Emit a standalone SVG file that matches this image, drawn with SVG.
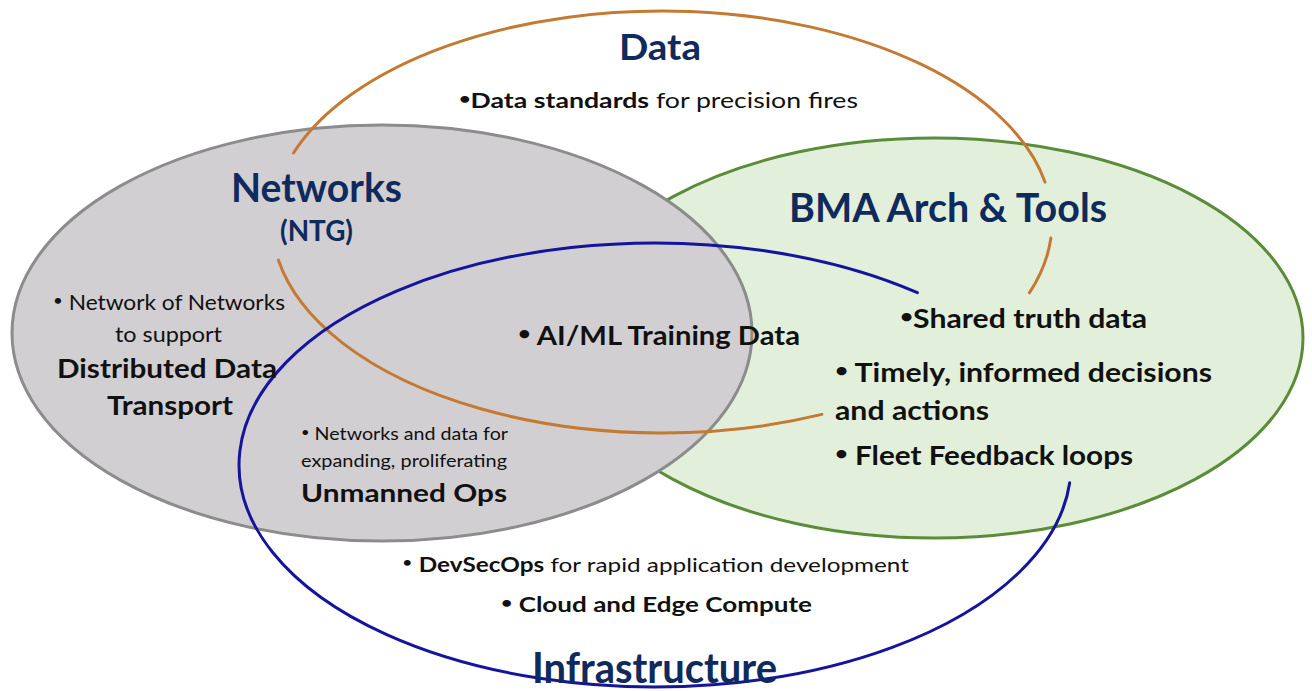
<svg xmlns="http://www.w3.org/2000/svg" width="1312" height="691" viewBox="0 0 1312 691">
<style>
text{font-family:Lato,"Noto Sans","Liberation Sans",sans-serif;fill:#111}
.h{font-weight:700;fill:#0f2a5c}
.b{font-weight:700}
.u{font-size:75%;baseline-shift:0.25em}
.line{fill:none;stroke-width:3;stroke-linecap:round}
.orange{stroke:#c47a33}
.blue{stroke:#14149c}
</style>
<rect width="1312" height="691" fill="#ffffff"/>
<g id="bma">
<ellipse cx="934" cy="338" rx="369" ry="200" fill="#e2efda" stroke="#5b8c3a" stroke-width="3"/>
</g>
<g id="networks">
<ellipse cx="382" cy="333" rx="370" ry="208" fill="#d1cfd2" stroke="#8c8c8c" stroke-width="3"/>
</g>
<g id="connectors">
<path id="data-ring-top" class="line orange" d="M293.5,153 A390,211 0 0,1 1045,182.1"/>
<path id="data-ring-bottom" class="line orange" d="M278.4,260.1 A390,211 0 0,0 821.9,414.4"/>
<path id="data-ring-right" class="line orange" d="M1050.9,238 A390,211 0 0,1 1029.4,292.8"/>
<path id="infra-ring" class="line blue" d="M1069.7,482.8 A416,222 0 1,1 917.4,292.7"/>
</g>
<g id="data-label">
<text class="h" x="619" y="60" font-size="36" textLength="82" lengthAdjust="spacingAndGlyphs">Data</text>
<text x="459" y="108" font-size="21" textLength="399" lengthAdjust="spacingAndGlyphs"><tspan class="b"><tspan class="u">•</tspan>Data standards</tspan> for precision fires</text>
</g>
<g id="networks-label">
<text class="h" x="231" y="202" font-size="40" textLength="171" lengthAdjust="spacingAndGlyphs">Networks</text>
<text class="h" x="280" y="241" font-size="29" textLength="73" lengthAdjust="spacingAndGlyphs">(NTG)</text>
<text x="53" y="310" font-size="21" textLength="232" lengthAdjust="spacingAndGlyphs"><tspan class="u">•</tspan> Network of Networks</text>
<text x="115" y="342" font-size="21" textLength="107" lengthAdjust="spacingAndGlyphs">to support</text>
<text class="b" x="57" y="378" font-size="26" textLength="220" lengthAdjust="spacingAndGlyphs">Distributed Data</text>
<text class="b" x="107" y="415" font-size="26" textLength="126" lengthAdjust="spacingAndGlyphs">Transport</text>
</g>
<g id="bma-label">
<text class="h" x="789" y="222" font-size="40" textLength="318" lengthAdjust="spacingAndGlyphs">BMA Arch &amp; Tools</text>
<text class="b" x="900" y="328" font-size="26" textLength="247" lengthAdjust="spacingAndGlyphs"><tspan class="u">•</tspan>Shared truth data</text>
<text class="b" x="835" y="382" font-size="26" textLength="377" lengthAdjust="spacingAndGlyphs"><tspan class="u">•</tspan> Timely, informed decisions</text>
<text class="b" x="835" y="420" font-size="26" textLength="154" lengthAdjust="spacingAndGlyphs">and actions</text>
<text class="b" x="835" y="465" font-size="26" textLength="298" lengthAdjust="spacingAndGlyphs"><tspan class="u">•</tspan> Fleet Feedback loops</text>
</g>
<g id="center-label">
<text class="b" x="518" y="345" font-size="26" textLength="282" lengthAdjust="spacingAndGlyphs"><tspan class="u">•</tspan> AI/ML Training Data</text>
</g>
<g id="unmanned-label">
<text x="301" y="440" font-size="17" textLength="207" lengthAdjust="spacingAndGlyphs"><tspan class="u">•</tspan> Networks and data for</text>
<text x="301" y="467" font-size="17" textLength="206" lengthAdjust="spacingAndGlyphs">expanding, proliferating</text>
<text class="b" x="301" y="502" font-size="25" textLength="206" lengthAdjust="spacingAndGlyphs">Unmanned Ops</text>
</g>
<g id="infrastructure-label">
<text x="402" y="572" font-size="20" textLength="507" lengthAdjust="spacingAndGlyphs"><tspan class="u">•</tspan> <tspan class="b">DevSecOps</tspan> for rapid application development</text>
<text class="b" x="501" y="612" font-size="20" textLength="311" lengthAdjust="spacingAndGlyphs"><tspan class="u">•</tspan> Cloud and Edge Compute</text>
<text class="h" x="532" y="683" font-size="42" textLength="245" lengthAdjust="spacingAndGlyphs">Infrastructure</text>
</g>
</svg>
